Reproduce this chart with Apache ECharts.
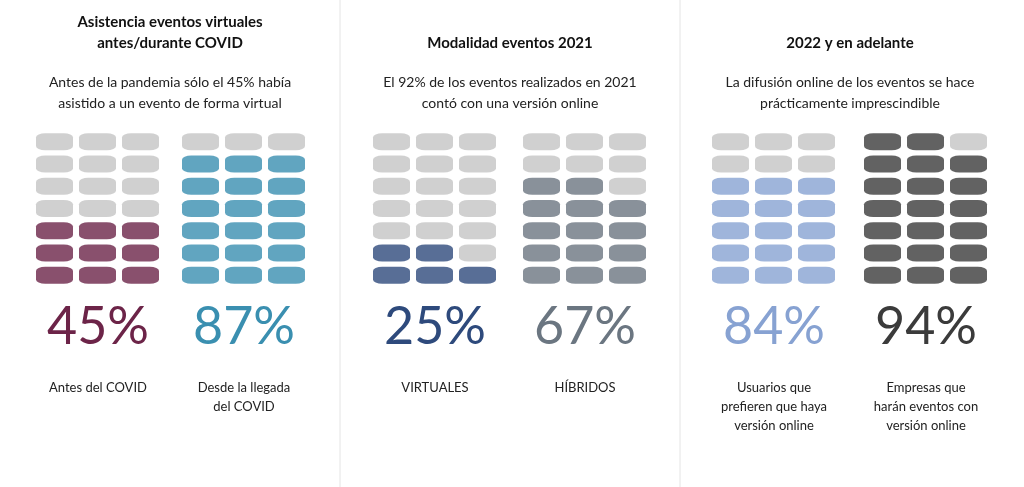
<!DOCTYPE html><html><head><meta charset="utf-8">
<script src="https://cdn.jsdelivr.net/npm/echarts@6/dist/echarts.min.js"></script>
<style>html,body{margin:0;background:#fff}#c{width:1024px;height:487px}</style></head><body><div id="c"></div>
<script>
const percents=['45%','87%','25%','67%','84%','94%'];
const filledCells=[9,18,5,14,15,20];
const colors=['#6c2448','#3a8fb0','#2e4a7c','#6b7681','#87a2d2','#3b3b3b'];
const labels=['Antes del COVID','Desde la llegada\ndel COVID','VIRTUALES','HÍBRIDOS','Usuarios que\nprefieren que haya\nversión online','Empresas que\nharán eventos con\nversión online'];
const titles=['Asistencia eventos virtuales\nantes/durante COVID','Modalidad eventos 2021','2022 y en adelante'];
const subtitles=['Antes de la pandemia sólo el 45% había\nasistido a un evento de forma virtual','El 92% de los eventos realizados en 2021\ncontó con una versión online','La difusión online de los eventos se hace\nprácticamente imprescindible'];
const gridLefts=[33,179,370,520,709,861];
const centers=[98,244,435,585,774,926];
const FONT='Lato, "Open Sans", sans-serif';
const grids=[],xA=[],yA=[],series=[],graphic=[];
gridLefts.forEach((l,i)=>{
  grids.push({left:l,top:130.5,width:129,height:156});
  xA.push({gridIndex:i,type:'value',min:-0.5,max:2.5,show:false});
  yA.push({gridIndex:i,type:'value',min:-0.5,max:6.5,show:false});
  const data=[];
  for(let r=0;r<7;r++)for(let c=0;c<3;c++){
    const k=r*3+c;
    data.push({value:[c,r],itemStyle:{color:k<filledCells[i]?colors[i]:'#c4c4c4'}});
  }
  series.push({type:'scatter',xAxisIndex:i,yAxisIndex:i,symbol:'roundRect',symbolSize:[37,17],data,silent:true,animation:false});
  graphic.push({type:'text',x:centers[i],y:327,style:{text:percents[i],fill:colors[i],font:'52px '+FONT,textAlign:'center',textVerticalAlign:'middle'}});
  graphic.push({type:'text',x:centers[i],y:378,style:{text:labels[i],fill:'#222',font:'13px '+FONT,textAlign:'center',textVerticalAlign:'top',lineHeight:19}});
});
[0,1,2].forEach(p=>{
  const cx=[170,510,850][p];
  graphic.push({type:'text',x:cx,y:titles[p].includes('\n')?12:33,style:{text:titles[p],fill:'#111',font:'bold 15px '+FONT,textAlign:'center',lineHeight:21}});
  graphic.push({type:'text',x:cx,y:72,style:{text:subtitles[p],fill:'#222',font:'14px '+FONT,textAlign:'center',lineHeight:21}});
});
[340,680].forEach(x=>graphic.push({type:'line',shape:{x1:x,y1:0,x2:x,y2:487},style:{stroke:'#e4e4e4',lineWidth:1}}));
const ch=echarts.init(document.getElementById('c'));
ch.setOption({animation:false,grid:grids,xAxis:xA,yAxis:yA,series,graphic});
</script></body></html>
